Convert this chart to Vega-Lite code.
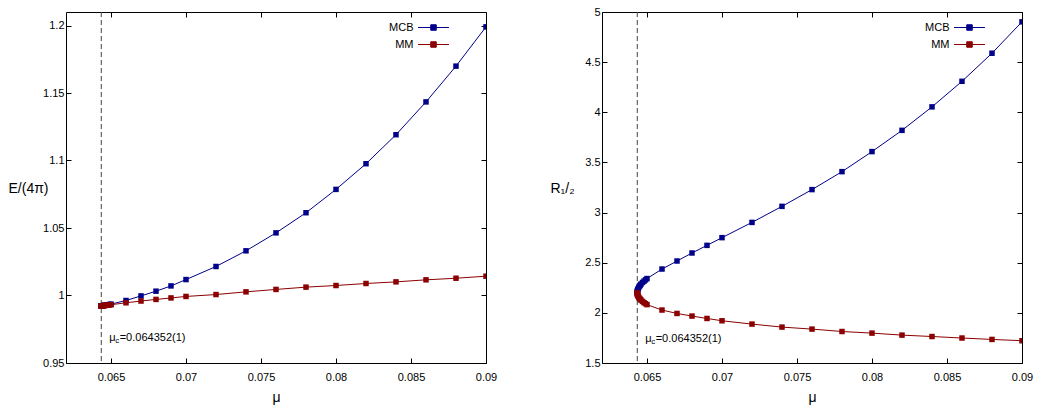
{
  "$schema": "https://vega.github.io/schema/vega-lite/v6.json",
  "background": "white",
  "padding": {"left": 7, "top": 5, "right": 5, "bottom": 5},
  "config": {
    "font": "Liberation Sans",
    "view": {"stroke": "#000", "strokeWidth": 1},
    "axis": {
      "grid": false, "domain": false, "tickSize": -5, "tickColor": "#000", "tickWidth": 1,
      "labelFont": "Liberation Sans", "labelFontSize": 11, "labelColor": "#000",
      "titleFont": "Liberation Sans", "titleFontSize": 14, "titleFontWeight": "normal", "titleColor": "#000",
      "labelFlush": false, "labelOverlap": false
    },
    "text": {"font": "Liberation Sans", "color": "#000"}
  },
  "datasets": {
    "curves": [
      {"series": "MCB", "mu": 0.064352, "E": 0.99230, "R": 2.200},
      {"series": "MCB", "mu": 0.064355, "E": 0.992304, "R": 2.210},
      {"series": "MCB", "mu": 0.06436, "E": 0.992311, "R": 2.216},
      {"series": "MCB", "mu": 0.06437, "E": 0.992327, "R": 2.223},
      {"series": "MCB", "mu": 0.06438, "E": 0.992343, "R": 2.229},
      {"series": "MCB", "mu": 0.0644, "E": 0.992375, "R": 2.238},
      {"series": "MCB", "mu": 0.06445, "E": 0.992461, "R": 2.254},
      {"series": "MCB", "mu": 0.0645, "E": 0.992552, "R": 2.267},
      {"series": "MCB", "mu": 0.06455, "E": 0.992647, "R": 2.277},
      {"series": "MCB", "mu": 0.0646, "E": 0.992745, "R": 2.287},
      {"series": "MCB", "mu": 0.0647, "E": 0.992949, "R": 2.303},
      {"series": "MCB", "mu": 0.0648, "E": 0.993164, "R": 2.316},
      {"series": "MCB", "mu": 0.0649, "E": 0.993387, "R": 2.329},
      {"series": "MCB", "mu": 0.065, "E": 0.993619, "R": 2.342},
      {"series": "MCB", "mu": 0.066, "E": 0.9963, "R": 2.437},
      {"series": "MCB", "mu": 0.067, "E": 0.9997, "R": 2.517},
      {"series": "MCB", "mu": 0.068, "E": 1.0032, "R": 2.597},
      {"series": "MCB", "mu": 0.069, "E": 1.0071, "R": 2.673},
      {"series": "MCB", "mu": 0.07, "E": 1.0118, "R": 2.750},
      {"series": "MCB", "mu": 0.072, "E": 1.0215, "R": 2.902},
      {"series": "MCB", "mu": 0.074, "E": 1.0331, "R": 3.062},
      {"series": "MCB", "mu": 0.076, "E": 1.0464, "R": 3.229},
      {"series": "MCB", "mu": 0.078, "E": 1.0613, "R": 3.408},
      {"series": "MCB", "mu": 0.08, "E": 1.0786, "R": 3.608},
      {"series": "MCB", "mu": 0.082, "E": 1.0976, "R": 3.820},
      {"series": "MCB", "mu": 0.084, "E": 1.1191, "R": 4.054},
      {"series": "MCB", "mu": 0.086, "E": 1.1434, "R": 4.309},
      {"series": "MCB", "mu": 0.088, "E": 1.1699, "R": 4.589},
      {"series": "MCB", "mu": 0.09, "E": 1.1990, "R": 4.902},
      {"series": "MM", "mu": 0.064352, "E": 0.99230, "R": 2.200},
      {"series": "MM", "mu": 0.064355, "E": 0.992304, "R": 2.192},
      {"series": "MM", "mu": 0.06436, "E": 0.992311, "R": 2.187},
      {"series": "MM", "mu": 0.06437, "E": 0.992325, "R": 2.180},
      {"series": "MM", "mu": 0.06438, "E": 0.992339, "R": 2.175},
      {"series": "MM", "mu": 0.0644, "E": 0.992367, "R": 2.168},
      {"series": "MM", "mu": 0.06445, "E": 0.992435, "R": 2.154},
      {"series": "MM", "mu": 0.0645, "E": 0.992504, "R": 2.144},
      {"series": "MM", "mu": 0.06455, "E": 0.992572, "R": 2.135},
      {"series": "MM", "mu": 0.0646, "E": 0.992639, "R": 2.127},
      {"series": "MM", "mu": 0.0647, "E": 0.992774, "R": 2.114},
      {"series": "MM", "mu": 0.0648, "E": 0.992908, "R": 2.102},
      {"series": "MM", "mu": 0.0649, "E": 0.993041, "R": 2.092},
      {"series": "MM", "mu": 0.065, "E": 0.993174, "R": 2.082},
      {"series": "MM", "mu": 0.066, "E": 0.9946, "R": 2.028},
      {"series": "MM", "mu": 0.067, "E": 0.9959, "R": 1.994},
      {"series": "MM", "mu": 0.068, "E": 0.9971, "R": 1.968},
      {"series": "MM", "mu": 0.069, "E": 0.9982, "R": 1.944},
      {"series": "MM", "mu": 0.07, "E": 0.9993, "R": 1.921},
      {"series": "MM", "mu": 0.072, "E": 1.0007, "R": 1.888},
      {"series": "MM", "mu": 0.074, "E": 1.0027, "R": 1.858},
      {"series": "MM", "mu": 0.076, "E": 1.0045, "R": 1.838},
      {"series": "MM", "mu": 0.078, "E": 1.0062, "R": 1.814},
      {"series": "MM", "mu": 0.08, "E": 1.0074, "R": 1.798},
      {"series": "MM", "mu": 0.082, "E": 1.0089, "R": 1.778},
      {"series": "MM", "mu": 0.084, "E": 1.0101, "R": 1.764},
      {"series": "MM", "mu": 0.086, "E": 1.0116, "R": 1.749},
      {"series": "MM", "mu": 0.088, "E": 1.0128, "R": 1.735},
      {"series": "MM", "mu": 0.09, "E": 1.0143, "R": 1.722}
    ],
    "marker": [{"label": "critical"}]
  },
  "data": {"name": "curves"},
  "spacing": 51,
  "resolve": {"legend": {"color": "independent"}},
  "hconcat": [
    {
      "width": 420,
      "height": 351,
      "layer": [
        {
          "data": {"name": "marker"},
          "mark": {"type": "rule", "color": "#444", "strokeDash": [5, 3], "strokeWidth": 1},
          "encoding": {"x": {"datum": 0.064352, "type": "quantitative", "axis": null}}
        },
        {
          "mark": {"type": "line", "strokeWidth": 1, "clip": true},
          "encoding": {
            "x": {"field": "mu", "type": "quantitative",
              "scale": {"domain": [0.062, 0.09], "nice": false, "zero": false},
              "axis": {"orient": "bottom", "values": [0.065, 0.07, 0.075, 0.08, 0.085, 0.09], "format": "~g",
                "labelPadding": 13, "title": "μ", "titleAngle": 0, "titleX": 210, "titleY": 34, "titleBaseline": "middle", "titleAlign": "center"}},
            "y": {"field": "E", "type": "quantitative",
              "scale": {"domain": [0.95, 1.21], "nice": false, "zero": false},
              "axis": {"orient": "left", "values": [0.95, 1, 1.05, 1.1, 1.15, 1.2], "format": "~g",
                "labelPadding": 7, "title": "E/(4π)", "titleAngle": 0, "titleX": -38, "titleY": 176, "titleAlign": "center", "titleBaseline": "middle"}},
            "color": {"field": "series", "type": "nominal",
              "scale": {"domain": ["MCB", "MM"], "range": ["#00008b", "#8b0000"]},
              "legend": {"orient": "none", "legendX": 372, "legendY": 10, "title": null, "padding": 0,
                "symbolType": "M-3.1,0H3.1M-0.55,-0.55H0.55V0.55H-0.55Z", "symbolSize": 100, "symbolStrokeWidth": 1, "symbolOffset": -10,
                "labelAlign": "right", "labelOffset": -25.5, "labelFontSize": 11, "labelFont": "Liberation Sans", "labelColor": "#000", "rowPadding": 5,
                "encode": {"symbols": {"update": {"fill": {"scale": "color", "field": "value"}, "stroke": {"scale": "color", "field": "value"}}}}}}
          }
        },
        {
          "mark": {"type": "point", "shape": "square", "filled": true, "size": 30, "opacity": 1, "clip": true},
          "encoding": {
            "x": {"field": "mu", "type": "quantitative", "axis": {"orient": "top", "values": [0.065, 0.07, 0.075, 0.08, 0.085, 0.09], "labels": false, "title": null}},
            "y": {"field": "E", "type": "quantitative", "axis": {"orient": "right", "values": [0.95, 1, 1.05, 1.1, 1.15, 1.2], "labels": false, "title": null}},
            "color": {"field": "series", "type": "nominal", "legend": null}
          }
        },
        {
          "data": {"name": "marker"},
          "mark": {"type": "text", "align": "left", "baseline": "middle", "fontSize": 11},
          "encoding": {"x": {"datum": 0.06488, "type": "quantitative", "axis": null}, "y": {"datum": 0.9683, "type": "quantitative", "axis": null}, "text": {"value": "μ"}}
        },
        {
          "data": {"name": "marker"},
          "mark": {"type": "text", "align": "left", "baseline": "middle", "fontSize": 8, "dx": 6, "dy": 3},
          "encoding": {"x": {"datum": 0.06488, "type": "quantitative", "axis": null}, "y": {"datum": 0.9683, "type": "quantitative", "axis": null}, "text": {"value": "c"}}
        },
        {
          "data": {"name": "marker"},
          "mark": {"type": "text", "align": "left", "baseline": "middle", "fontSize": 11, "dx": 10.5},
          "encoding": {"x": {"datum": 0.06488, "type": "quantitative", "axis": null}, "y": {"datum": 0.9683, "type": "quantitative", "axis": null}, "text": {"value": "=0.064352(1)"}}
        }
      ]
    },
    {
      "width": 420,
      "height": 351,
      "layer": [
        {
          "data": {"name": "marker"},
          "mark": {"type": "rule", "color": "#444", "strokeDash": [5, 3], "strokeWidth": 1},
          "encoding": {"x": {"datum": 0.064352, "type": "quantitative", "axis": null}}
        },
        {
          "mark": {"type": "line", "strokeWidth": 1, "clip": true},
          "encoding": {
            "x": {"field": "mu", "type": "quantitative",
              "scale": {"domain": [0.062, 0.09], "nice": false, "zero": false},
              "axis": {"orient": "bottom", "values": [0.065, 0.07, 0.075, 0.08, 0.085, 0.09], "format": "~g",
                "labelPadding": 13, "title": "μ", "titleAngle": 0, "titleX": 210, "titleY": 34, "titleBaseline": "middle", "titleAlign": "center"}},
            "y": {"field": "R", "type": "quantitative",
              "scale": {"domain": [1.5, 5], "nice": false, "zero": false},
              "axis": {"orient": "left", "values": [1.5, 2, 2.5, 3, 3.5, 4, 4.5, 5], "format": "~g",
                "labelPadding": 7, "title": "R₁/₂", "titleAngle": 0, "titleX": -40, "titleY": 176, "titleAlign": "center", "titleBaseline": "middle"}},
            "color": {"field": "series", "type": "nominal",
              "scale": {"domain": ["MCB", "MM"], "range": ["#00008b", "#8b0000"]},
              "legend": {"orient": "none", "legendX": 372, "legendY": 10, "title": null, "padding": 0,
                "symbolType": "M-3.1,0H3.1M-0.55,-0.55H0.55V0.55H-0.55Z", "symbolSize": 100, "symbolStrokeWidth": 1, "symbolOffset": -10,
                "labelAlign": "right", "labelOffset": -25.5, "labelFontSize": 11, "labelFont": "Liberation Sans", "labelColor": "#000", "rowPadding": 5,
                "encode": {"symbols": {"update": {"fill": {"scale": "color", "field": "value"}, "stroke": {"scale": "color", "field": "value"}}}}}}
          }
        },
        {
          "mark": {"type": "point", "shape": "square", "filled": true, "size": 30, "opacity": 1, "clip": true},
          "encoding": {
            "x": {"field": "mu", "type": "quantitative", "axis": {"orient": "top", "values": [0.065, 0.07, 0.075, 0.08, 0.085, 0.09], "labels": false, "title": null}},
            "y": {"field": "R", "type": "quantitative", "axis": {"orient": "right", "values": [1.5, 2, 2.5, 3, 3.5, 4, 4.5, 5], "labels": false, "title": null}},
            "color": {"field": "series", "type": "nominal", "legend": null}
          }
        },
        {
          "data": {"name": "marker"},
          "mark": {"type": "text", "align": "left", "baseline": "middle", "fontSize": 11},
          "encoding": {"x": {"datum": 0.06488, "type": "quantitative", "axis": null}, "y": {"datum": 1.739, "type": "quantitative", "axis": null}, "text": {"value": "μ"}}
        },
        {
          "data": {"name": "marker"},
          "mark": {"type": "text", "align": "left", "baseline": "middle", "fontSize": 8, "dx": 6, "dy": 3},
          "encoding": {"x": {"datum": 0.06488, "type": "quantitative", "axis": null}, "y": {"datum": 1.739, "type": "quantitative", "axis": null}, "text": {"value": "c"}}
        },
        {
          "data": {"name": "marker"},
          "mark": {"type": "text", "align": "left", "baseline": "middle", "fontSize": 11, "dx": 10.5},
          "encoding": {"x": {"datum": 0.06488, "type": "quantitative", "axis": null}, "y": {"datum": 1.739, "type": "quantitative", "axis": null}, "text": {"value": "=0.064352(1)"}}
        }
      ]
    }
  ]
}
